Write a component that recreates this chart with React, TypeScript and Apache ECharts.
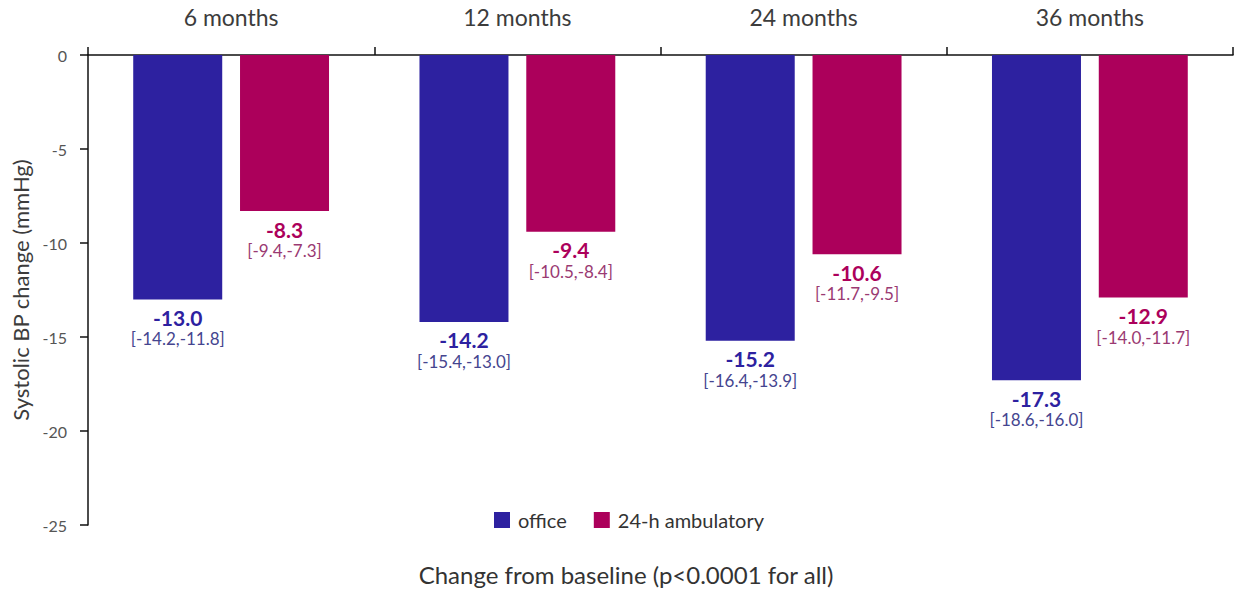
import React, { useEffect, useRef } from "react";
import * as echarts from "echarts";

// Follow-up time points
const periods = ["6 months", "12 months", "24 months", "36 months"];

// Mean systolic BP change (mmHg) with 95% CI
const officeMean = [-13.0, -14.2, -15.2, -17.3];
const officeLow = [-14.2, -15.4, -16.4, -18.6];
const officeHigh = [-11.8, -13.0, -13.9, -16.0];

const ambulatoryMean = [-8.3, -9.4, -10.6, -12.9];
const ambulatoryLow = [-9.4, -10.5, -11.7, -14.0];
const ambulatoryHigh = [-7.3, -8.4, -9.5, -11.7];

const yTicks = [0, -5, -10, -15, -20, -25];

const OFFICE = "#2D21A0";
const AMBU = "#AC005B";
const FONT = "Lato, 'Open Sans', sans-serif";

const fmt = (v: number) => v.toFixed(1);

function makeLabel(color: string, ciColor: string, low: number[], high: number[]) {
  return {
    show: true,
    position: "bottom",
    distance: 7,
    fontFamily: FONT,
    align: "center",
    formatter: (p: any) =>
      `{v|${fmt(p.value)}}\n{ci|[${fmt(low[p.dataIndex])},${fmt(high[p.dataIndex])}]}`,
    rich: {
      v: { fontSize: 21, fontWeight: "bold", color, fontFamily: FONT, lineHeight: 22 },
      ci: { fontSize: 17, color: ciColor, fontFamily: FONT, lineHeight: 21 },
    },
  };
}

export default function App() {
  const ref = useRef<HTMLDivElement>(null);

  useEffect(() => {
    if (!ref.current) return;
    const chart = echarts.init(ref.current, null, { renderer: "svg" });
    chart.setOption({
      animation: false,
      backgroundColor: "#ffffff",
      grid: { left: 88, right: 5, top: 55, bottom: 67, containLabel: false },
      legend: {
        data: ["office", "24-h ambulatory"],
        left: 489,
        top: 505,
        itemWidth: 16,
        itemHeight: 16,
        itemGap: 27,
        icon: "rect",
        textStyle: { fontSize: 20, color: "#333", fontFamily: FONT, padding: [0, 0, 0, 3] },
      },
      xAxis: {
        type: "category",
        position: "top",
        data: periods,
        axisLine: { show: true, lineStyle: { color: "#111", width: 1.5 } },
        axisTick: { show: true, length: 8, lineStyle: { color: "#111", width: 1.5 } },
        axisLabel: { fontSize: 23, color: "#3c3c3c", margin: 27, fontFamily: FONT },
      },
      yAxis: {
        type: "value",
        min: -25,
        max: 0,
        interval: 5,
        name: "Systolic BP change (mmHg)",
        nameLocation: "middle",
        nameGap: 55,
        nameTextStyle: { fontSize: 22, color: "#3c3c3c", fontFamily: FONT },
        axisLine: { show: true, lineStyle: { color: "#111", width: 1.5 } },
        axisTick: { show: true, length: 8, lineStyle: { color: "#111", width: 1.5 } },
        splitLine: { show: false },
        axisLabel: {
          fontSize: 16,
          color: "#555",
          margin: 21,
          padding: [0, 0, 6, 0],
          fontFamily: FONT,
          formatter: (v: number) => (yTicks.includes(v) ? String(v) : ""),
        },
      },
      graphic: [
        {
          type: "text",
          x: 626,
          y: 574,
          style: {
            text: "Change from baseline (p<0.0001 for all)",
            fontSize: 24,
            fill: "#333",
            fontFamily: FONT,
            textAlign: "center",
            textVerticalAlign: "middle",
          },
        },
      ],
      series: [
        {
          name: "office",
          type: "bar",
          data: officeMean,
          barWidth: 89,
          barGap: "20%",
          itemStyle: { color: OFFICE },
          label: makeLabel(OFFICE, "#45458F", officeLow, officeHigh),
        },
        {
          name: "24-h ambulatory",
          type: "bar",
          data: ambulatoryMean,
          barWidth: 89,
          barGap: "20%",
          itemStyle: { color: AMBU },
          label: makeLabel(AMBU, "#9A3A72", ambulatoryLow, ambulatoryHigh),
        },
      ],
    });
    return () => chart.dispose();
  }, []);

  return (
    <div
      ref={ref}
      style={{ position: "fixed", left: 0, top: 0, width: 1238, height: 592, background: "#fff" }}
    />
  );
}
